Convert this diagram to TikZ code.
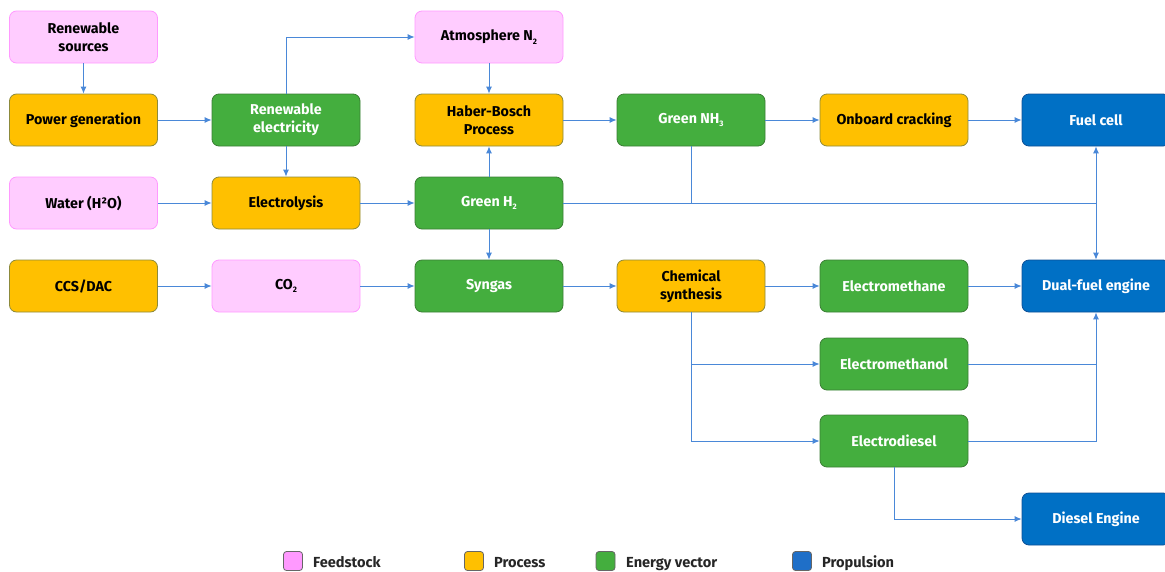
\documentclass[tikz,border=0pt]{standalone}
\usepackage{fontspec}
\setmainfont{Fira Sans}
\usetikzlibrary{arrows.meta}
\definecolor{feedfill}{HTML}{FFCCFF}
\definecolor{feeddraw}{HTML}{FF99FF}
\definecolor{procfill}{HTML}{FFC000}
\definecolor{procdraw}{HTML}{8C8A3C}
\definecolor{vecfill}{HTML}{44AE3E}
\definecolor{vecdraw}{HTML}{3B7E35}
\definecolor{propfill}{HTML}{0070C5}
\definecolor{propdraw}{HTML}{0D4F96}
\definecolor{arrowc}{HTML}{4A88D8}
\definecolor{legpink}{HTML}{FF99FF}
\definecolor{legblue}{HTML}{1F6FC8}
\tikzset{
  box/.style={rounded corners=7pt, minimum width=148pt, minimum height=52pt, align=center, inner sep=2pt,
    font=\bfseries\fontsize{14.3}{18}\selectfont, line width=0.8pt},
  feed/.style={box, fill=feedfill, draw=feeddraw, text=black},
  proc/.style={box, fill=procfill, draw=procdraw, text=black},
  vec/.style={box, fill=vecfill, draw=vecdraw, text=white},
  prop/.style={box, fill=propfill, draw=propdraw, text=white},
  conn/.style={draw=arrowc, line width=0.9pt, -{Latex[length=7pt,width=6pt]}},
  plain/.style={draw=arrowc, line width=0.9pt},
  legsq/.style={rounded corners=3pt, minimum width=19pt, minimum height=19pt, draw=black!60, line width=0.8pt, inner sep=0pt},
  legtxt/.style={anchor=base west, font=\bfseries\fontsize{14.6}{18}\selectfont, text=black!85, inner sep=0pt}
}
\newcommand{\sub}[1]{\raisebox{-0.45ex}{\fontsize{8}{9}\selectfont #1}}
\begin{document}
\begin{tikzpicture}[x=1pt,y=-1pt]
\useasboundingbox (0,0) rectangle (1165,571);
% row 1
\node[feed] (rs) at (83.5,37) {Renewable\\sources};
\node[feed] (an) at (489,37) {Atmosphere N\sub{2}};
% row 2
\node[proc] (pg) at (83.5,120) {Power generation};
\node[vec] (re) at (286,120) {Renewable\\electricity};
\node[proc] (hb) at (489,120) {Haber-Bosch\\Process};
\node[vec] (nh3) at (691,120) {Green NH\sub{3}};
\node[proc] (oc) at (894,120) {Onboard cracking};
\node[prop] (fc) at (1096,120) {Fuel cell};
% row 3
\node[feed] (water) at (83.5,203) {Water (H²O)};
\node[proc] (el) at (286,203) {Electrolysis};
\node[vec] (h2) at (489,203) {Green H\sub{2}};
% row 4
\node[proc] (ccs) at (83.5,286) {CCS/DAC};
\node[feed] (co2) at (286,286) {CO\sub{2}};
\node[vec] (syn) at (489,286) {Syngas};
\node[proc] (cs) at (691,286) {Chemical\\synthesis};
\node[vec] (em) at (894,286) {Electromethane};
\node[prop] (df) at (1096,286) {Dual-fuel engine};
% rows 5-7
\node[vec] (emol) at (894,364) {Electromethanol};
\node[vec] (ed) at (894,441) {Electrodiesel};
\node[prop] (de) at (1096,519) {Diesel Engine};
% connectors
\draw[conn] (rs) -- (pg);
\draw[conn] (pg) -- (re);
\draw[conn] (re.north) |- (an.west);
\draw[conn] (re) -- (el);
\draw[conn] (an) -- (hb);
\draw[conn] (water) -- (el);
\draw[conn] (el) -- (h2);
\draw[conn] (h2) -- (hb);
\draw[conn] (h2) -- (syn);
\draw[conn] (hb) -- (nh3);
\draw[conn] (nh3) -- (oc);
\draw[conn] (oc) -- (fc);
\coordinate (j1) at (fc.south |- h2.east);
\draw[plain] (nh3.south) -- (nh3.south |- h2.east);
\draw[plain] (h2.east) -- (j1);
\draw[conn] (j1) -- (fc.south);
\draw[conn] (j1) -- (df.north);
\draw[conn] (ccs) -- (co2);
\draw[conn] (co2) -- (syn);
\draw[conn] (syn) -- (cs);
\draw[conn] (cs) -- (em);
\draw[conn] (em) -- (df);
\draw[conn] (cs.south) |- (emol.west);
\draw[conn] (cs.south) |- (ed.west);
\coordinate (j2) at (df.south |- emol.east);
\draw[conn] (emol.east) -| (df.south);
\draw[plain] (ed.east) -| (j2);
\draw[conn] (ed.south) |- (de.west);
% legend
\node[legsq, fill=legpink] (l1) at (293,561) {};
\node[legtxt] (t1) at (313,567) {Feedstock};
\node[legsq, fill=procfill] (l2) at (474,561) {};
\node[legtxt] (t2) at (494,567) {Process};
\node[legsq, fill=vecfill] (l3) at (605.5,561) {};
\node[legtxt] (t3) at (626,567) {Energy vector};
\node[legsq, fill=legblue] (l4) at (802,561) {};
\node[legtxt] (t4) at (822,567) {Propulsion};
\end{tikzpicture}
\end{document}
